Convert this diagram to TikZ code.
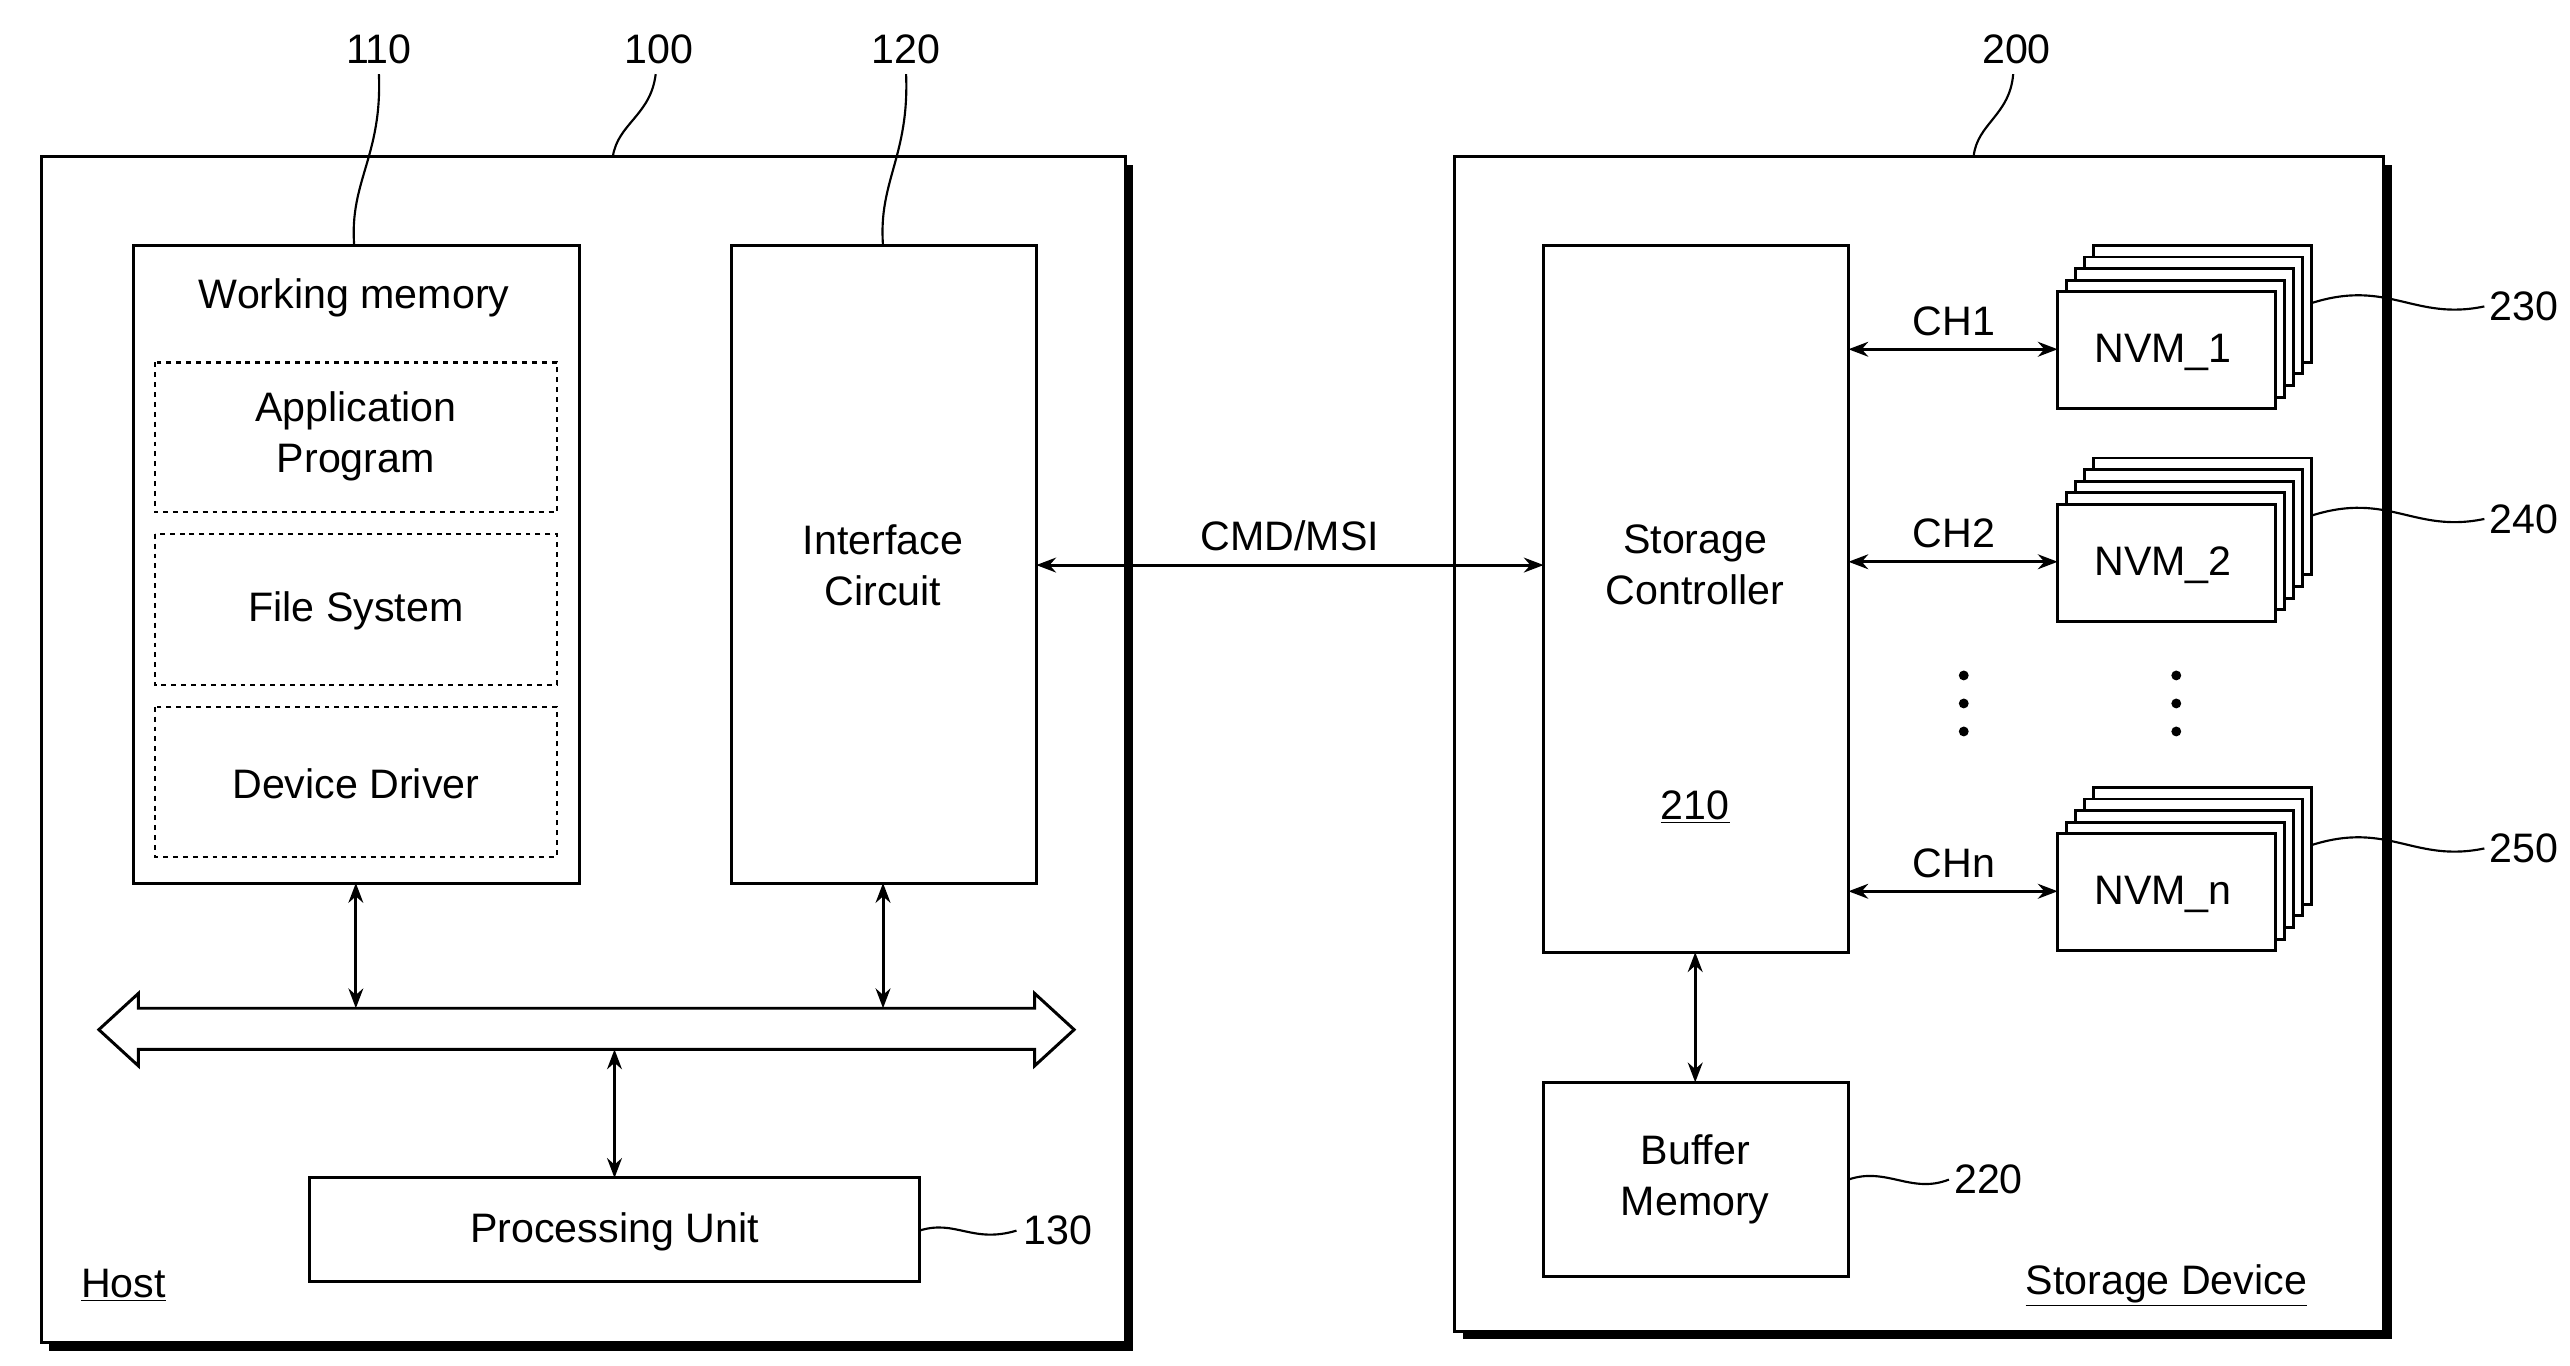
\documentclass[tikz,border=0pt]{standalone}
\usepackage{fontspec}
\setmainfont{Liberation Sans}
\usetikzlibrary{arrows.meta,shapes.arrows}
\begin{document}
\begin{tikzpicture}[x=1pt,y=-1pt,line width=1.8pt,
  font=\fontsize{25}{31}\selectfont,
  box/.style={draw,fill=white},
  dbox/.style={draw,dashed,line width=1.3pt},
  arr/.style={{Stealth[length=12pt,width=9pt]}-{Stealth[length=12pt,width=9pt]}},
  lead/.style={line width=1.3pt}]
\useasboundingbox (0,0) rectangle (1560,829);
% host
\fill (30,100) rectangle (688,820);
\draw[box] (25,95) rectangle (683,815);
\node (host) at (75,780) {\underline{Host}};
\draw[box] (81,149) rectangle (352,536);
\node (wmt) at (215,181) {Working memory};
\draw[dbox] (94,220) rectangle (338,311);
\node[align=center] (app) at (216,265) {Application\\Program};
\draw[dbox] (94,324) rectangle (338,416);
\node (fs) at (216,371) {File System};
\draw[dbox] (94,429) rectangle (338,520);
\node (dd) at (216,476) {Device Driver};
\draw[box] (444,149) rectangle (629,536);
\node[align=center] (ic) at (536,343) {Interface\\Circuit};
\draw[box] (188,715) rectangle (558,778);
\node (pu) at (373,748) {Processing Unit};
% bus
\draw (60,625) -- (84,603) -- (84,612) -- (628,612) -- (628,603) -- (652,625) -- (628,647) -- (628,637) -- (84,637) -- (84,647) -- cycle;
\coordinate (a1) at (216,536); \coordinate (b1) at (216,612);
\coordinate (a2) at (536,536); \coordinate (b2) at (536,612);
\coordinate (a3) at (373,637); \coordinate (b3) at (373,715);
\draw[arr] (a1) -- (b1); \draw[arr] (a2) -- (b2); \draw[arr] (a3) -- (b3);
% storage
\fill (888,100) rectangle (1452,813);
\draw[box] (883,95) rectangle (1447,808);
\node (sd) at (1315,780) {\underline{Storage Device}};
\draw[box] (937,149) rectangle (1122,578);
\node[align=center] (sc) at (1029,343) {Storage\\Controller};
\node (n210) at (1029,490) {\underline{210}};
\draw[box] (937,657) rectangle (1122,775);
\node[align=center] (bm) at (1029,716) {Buffer\\Memory};
\coordinate (c1) at (1029,578); \coordinate (c2) at (1029,657);
\draw[arr] (c1) -- (c2);
\coordinate (i1) at (629,343); \coordinate (i2) at (937,343);
\draw[arr] (i1) -- (i2);
\node (cmd) at (783,325) {CMD/MSI};
\foreach \y/\t/\ch/\num in {177/NVM\_1/CH1/230, 306/NVM\_2/CH2/240, 506/NVM\_n/CHn/250}{
  \foreach \k in {4,3,2,1}{
    \draw[box] (1249+5.5*\k,\y-7*\k) rectangle (1381+5.5*\k,\y+71-7*\k);
  }
  \draw[box] (1249,\y) rectangle (1381,\y+71);
  \node at (1313,\y+37) {\t};
  \draw[arr] (1122,\y+35) -- (1249,\y+35);
  \node at (1186,\y+18) {\ch};
  \draw[lead] (1403,\y+7) .. controls (1450,\y-8) and (1465,\y+18) .. (1508,\y+9);
  \node at (1532,\y+9) {\num};
}
\foreach \x in {1192,1321}{
  \foreach \yy in {410,427,444} \fill (\x,\yy) circle (3);
}
% leaders
\node (l110) at (230,30) {110};
\draw[lead] (215,149) .. controls (212,110) and (232,95) .. (230,45);
\node (l100) at (400,30) {100};
\draw[lead] (372,95) .. controls (375,75) and (395,70) .. (398,45);
\node (l120) at (550,30) {120};
\draw[lead] (536,149) .. controls (533,110) and (552,95) .. (550,45);
\node (l200) at (1224,30) {200};
\draw[lead] (1198,95) .. controls (1200,75) and (1220,70) .. (1222,45);
\node (l130) at (642,747) {130};
\draw[lead] (558,747) .. controls (580,740) and (590,755) .. (617,747);
\node (l220) at (1207,716) {220};
\draw[lead] (1122,716) .. controls (1145,708) and (1160,725) .. (1183,716);
\end{tikzpicture}
\end{document}
